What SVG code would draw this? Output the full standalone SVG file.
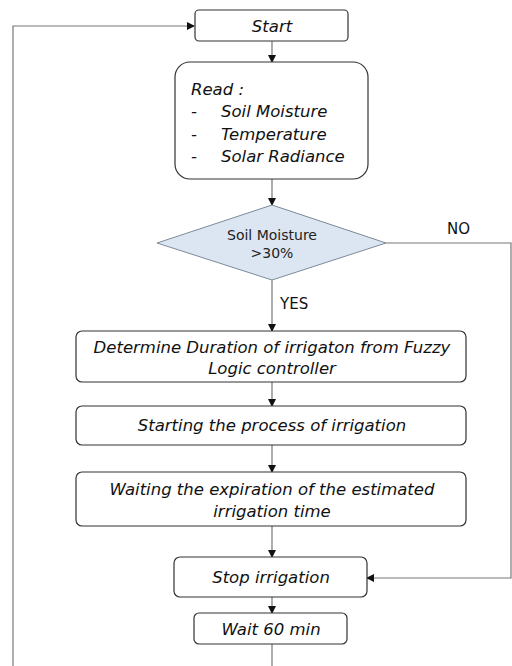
<svg xmlns="http://www.w3.org/2000/svg" width="512" height="666" viewBox="0 0 512 666">
<defs>
<marker id="ah" markerWidth="8" markerHeight="8" refX="7" refY="4" orient="auto" markerUnits="userSpaceOnUse">
<path d="M0,0 L8,4 L0,8 Z" fill="#111"/>
</marker>
<style>
.box{fill:#fff;stroke:#333;stroke-width:1.2}
.t{font-family:"DejaVu Sans",sans-serif;font-style:italic;font-size:16.5px;fill:#111;text-anchor:middle}
.tl{font-family:"DejaVu Sans",sans-serif;font-style:italic;font-size:16.5px;fill:#111}
.lbl{font-family:"DejaVu Sans",sans-serif;font-size:15px;fill:#111}
.dt{font-family:"DejaVu Sans",sans-serif;font-size:14px;fill:#222;text-anchor:middle}
.c{fill:none;stroke:#777;stroke-width:1.2}
</style>
</defs>
<rect width="512" height="666" fill="#fff"/>
<g id="connectors">
<polyline class="c" points="13,666 13,26 194,26" marker-end="url(#ah)"/>
<line class="c" x1="272" y1="41" x2="272" y2="62" marker-end="url(#ah)"/>
<line class="c" x1="272" y1="179" x2="272" y2="205" marker-end="url(#ah)"/>
<line class="c" x1="272" y1="280" x2="272" y2="331" marker-end="url(#ah)"/>
<line class="c" x1="272" y1="382" x2="272" y2="406" marker-end="url(#ah)"/>
<line class="c" x1="272" y1="445" x2="272" y2="472" marker-end="url(#ah)"/>
<line class="c" x1="272" y1="526" x2="272" y2="557" marker-end="url(#ah)"/>
<line class="c" x1="272" y1="597" x2="272" y2="613" marker-end="url(#ah)"/>
<line class="c" x1="272" y1="644" x2="272" y2="666"/>
<polyline class="c" points="386,243 511,243 511,578 367,578" marker-end="url(#ah)"/>
<text class="lbl" x="447" y="234">NO</text>
<text class="lbl" x="280" y="309">YES</text>
</g>
<g id="start">
<rect class="box" x="195" y="10" width="153" height="31" rx="4"/>
<text class="t" x="272" y="32">Start</text>
</g>
<g id="read">
<rect class="box" x="175" y="62" width="193" height="117" rx="15"/>
<text class="tl" x="191" y="95">Read :</text>
<text class="tl" x="191" y="117">-</text><text class="tl" x="221" y="117">Soil Moisture</text>
<text class="tl" x="191" y="140">-</text><text class="tl" x="221" y="140">Temperature</text>
<text class="tl" x="191" y="162">-</text><text class="tl" x="221" y="162">Solar Radiance</text>
</g>
<g id="decision">
<polygon points="272,205 386,243 272,280 157,243" fill="#dce6f2" stroke="#7d8a99" stroke-width="1"/>
<text class="dt" x="272" y="240">Soil Moisture</text>
<text class="dt" x="272" y="258">&gt;30%</text>
</g>
<g id="determine">
<rect class="box" x="76" y="331" width="390" height="51" rx="6"/>
<text class="t" x="272" y="353">Determine Duration of irrigaton from Fuzzy</text>
<text class="t" x="272" y="374">Logic controller</text>
</g>
<g id="starting">
<rect class="box" x="76" y="406" width="390" height="39" rx="6"/>
<text class="t" x="272" y="431">Starting the process of irrigation</text>
</g>
<g id="waiting">
<rect class="box" x="76" y="472" width="390" height="54" rx="6"/>
<text class="t" x="272" y="495">Waiting the expiration of the estimated</text>
<text class="t" x="272" y="517">irrigation time</text>
</g>
<g id="stop">
<rect class="box" x="174" y="557" width="193" height="40" rx="6"/>
<text class="t" x="271" y="583">Stop irrigation</text>
</g>
<g id="wait">
<rect class="box" x="194" y="613" width="153" height="31" rx="5"/>
<text class="t" x="271" y="635">Wait 60 min</text>
</g>
</svg>
